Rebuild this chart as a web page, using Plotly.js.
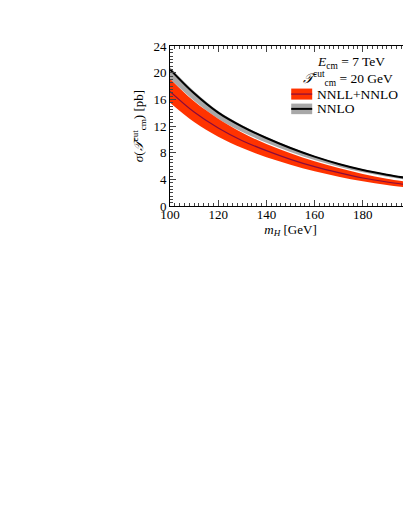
<!DOCTYPE html>
<html><head><meta charset="utf-8">
<script src="https://cdn.plot.ly/plotly-3.0.1.min.js"></script>
<style>html,body{margin:0;padding:0;background:#fff;overflow:hidden;width:403px;height:521px}#c{width:430px;height:521px}</style>
</head><body><div id="c"></div>
<script>
const mH = [100,110,120,130,140,150,160,170,180,190,200];
const nnloCentral = [20.5,16.9,14.0,11.9,10.2,8.7,7.4,6.3,5.4,4.7,4.1];
const nnloUpper   = [20.8,17.2,14.25,12.1,10.35,8.85,7.5,6.4,5.5,4.8,4.2];
const nnloLower   = [19.1,15.8,13.1,11.1,9.5,8.1,6.9,5.9,5.05,4.4,3.85];
const resCentral  = [17.2,14.1,11.7,9.8,8.3,7.0,5.9,5.0,4.2,3.6,3.1];
const resUpper    = [19.1,15.7,13.1,11.0,9.3,7.9,6.7,5.7,4.8,4.1,3.55];
const resLower    = [15.5,12.6,10.4,8.7,7.3,6.2,5.2,4.4,3.7,3.15,2.7];
const xTicks = [100,120,140,160,180];
const labels = ["NNLL+NNLO","NNLO"];

const F = "Liberation Serif, Times New Roman, serif";
const traces = [
  {x:mH,y:nnloLower,mode:'lines',line:{width:0,shape:'spline'},hoverinfo:'skip',showlegend:false},
  {x:mH,y:nnloUpper,mode:'lines',fill:'tonexty',fillcolor:'#a8a8a8',line:{width:0,shape:'spline'},showlegend:false},
  {x:mH,y:resLower,mode:'lines',line:{width:0,shape:'spline'},showlegend:false},
  {x:mH,y:resUpper,mode:'lines',fill:'tonexty',fillcolor:'#ff3300',line:{width:0,shape:'spline'},showlegend:false},
  {x:mH,y:nnloCentral,mode:'lines',line:{color:'#000',width:2,shape:'spline'},name:labels[1],showlegend:false},
  {x:mH,y:resCentral,mode:'lines',line:{color:'#8a0b3c',width:1.2,shape:'spline'},name:labels[0],showlegend:false}
];
const layout = {
  width:430,height:521,
  margin:{l:170,r:18.5,t:46,b:315},
  paper_bgcolor:'#fff',plot_bgcolor:'#fff',
  font:{family:F,size:13,color:'#000'},
  xaxis:{range:[100,200],tickmode:'array',tickvals:xTicks,ticks:'inside',ticklen:6,tickwidth:1,showline:true,linewidth:1,linecolor:'#000',mirror:'allticks',showgrid:false,zeroline:false,
    minor:{tickmode:'linear',tick0:100,dtick:2,ticks:'inside',ticklen:3,tickwidth:1,showgrid:false},
    tickfont:{family:F,size:13},ticklabelstandoff:-4,
    title:{text:'<i>m</i><sub><i>H</i></sub> [GeV]',font:{family:F,size:13},standoff:0}},
  yaxis:{range:[0,24],dtick:4,tick0:0,ticks:'inside',ticklen:6,tickwidth:1,showline:true,linewidth:1,linecolor:'#000',mirror:'allticks',showgrid:false,zeroline:false,
    minor:{dtick:0.5,ticks:'inside',ticklen:3,tickwidth:1,showgrid:false},
    tickfont:{family:F,size:13},
    title:{text:'<i>σ</i>(<i>𝒯</i><sup>cut</sup><sub>cm</sub>) [pb]',font:{family:F,size:13},standoff:6}},
  shapes:[
    {type:'rect',xref:'paper',yref:'paper',x0:0.503,x1:0.59,y0:0.665,y1:0.734,fillcolor:'#ff3300',line:{width:0}},
    {type:'line',xref:'paper',yref:'paper',x0:0.503,x1:0.59,y0:0.6995,y1:0.6995,line:{color:'#8a0b3c',width:1.2}},
    {type:'rect',xref:'paper',yref:'paper',x0:0.503,x1:0.59,y0:0.574,y1:0.64,fillcolor:'#a8a8a8',line:{width:0}},
    {type:'line',xref:'paper',yref:'paper',x0:0.503,x1:0.59,y0:0.607,y1:0.607,line:{color:'#000',width:2}}
  ],
  annotations:[
    {xref:'paper',yref:'paper',x:0.749,y:0.9,xanchor:'center',yanchor:'middle',showarrow:false,text:'<i>E</i><sub>cm</sub> = 7 TeV',font:{family:F,size:13.5}},
    {xref:'paper',yref:'paper',x:0.74,y:0.8,xanchor:'center',yanchor:'middle',showarrow:false,text:'<i>𝒯</i><sup>cut</sup><sub>cm</sub> = 20 GeV',font:{family:F,size:13.5}},
    {xref:'paper',yref:'paper',x:0.6,y:0.6995,xanchor:'left',yanchor:'middle',showarrow:false,text:labels[0],font:{family:F,size:13.5}},
    {xref:'paper',yref:'paper',x:0.6,y:0.607,xanchor:'left',yanchor:'middle',showarrow:false,text:labels[1],font:{family:F,size:13.5}}
  ]
};
Plotly.newPlot('c',traces,layout,{staticPlot:true,displayModeBar:false});
</script></body></html>
